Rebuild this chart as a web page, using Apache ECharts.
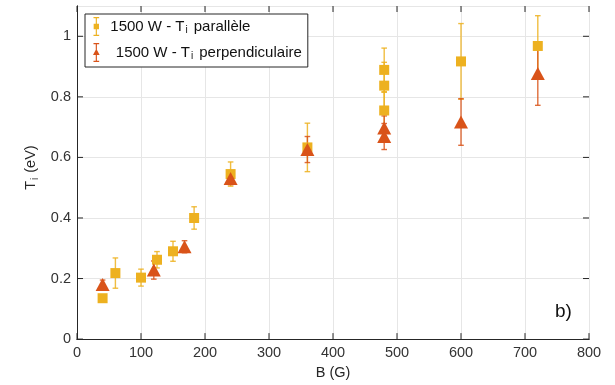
<!DOCTYPE html>
<html>
<head>
<meta charset="utf-8">
<script src="https://cdn.jsdelivr.net/npm/echarts@6/dist/echarts.min.js"></script>
<style>
html,body{margin:0;padding:0;background:#fff;}
#chart{width:615px;height:385px;}
</style>
</head>
<body>
<div id="chart"></div>
<script>
// Data
const parName = '1500 W - Ti parallèle';
const perpName = '1500 W - Ti perpendiculaire';
const parB   = [40, 60, 100, 125, 150, 183, 240, 360, 480, 480, 480, 600, 720];
const parT   = [0.135, 0.218, 0.203, 0.262, 0.290, 0.400, 0.545, 0.633, 0.889, 0.837, 0.755, 0.917, 0.968];
const parErr = [0.010, 0.050, 0.028, 0.027, 0.033, 0.037, 0.040, 0.080, 0.072, 0.077, 0.060, 0.125, 0.100];
const perpB   = [40, 120, 168, 240, 360, 480, 480, 600, 720];
const perpT   = [0.180, 0.228, 0.305, 0.530, 0.626, 0.697, 0.669, 0.717, 0.877];
const perpErr = [0.015, 0.030, 0.020, 0.020, 0.043, 0.040, 0.043, 0.077, 0.105];
const xTicks = [0, 100, 200, 300, 400, 500, 600, 700, 800];
const yTicks = [0, 0.2, 0.4, 0.6, 0.8, 1];
const xRange = [0, 800];
const yRange = [0, 1.1];

const cPar = '#EDB120';
const cPerp = '#D95319';
const axisCol = '#262626';
const gridCol = '#e6e6e6';
const font = 'Liberation Sans, Arial, Helvetica, sans-serif';
const TICK = 6;

function zip3(a, b, c) { return a.map((v, i) => [v, b[i], c[i]]); }

function errRender(color) {
  return function (params, api) {
    const x = api.value(0), y = api.value(1), e = api.value(2);
    const top = api.coord([x, y + e]);
    const bot = api.coord([x, y - e]);
    const w = 2.8;
    const st = { stroke: color, lineWidth: 1.4, opacity: 0.85 };
    return {
      type: 'group',
      children: [
        { type: 'line', shape: { x1: top[0], y1: top[1], x2: bot[0], y2: bot[1] }, style: st },
        { type: 'line', shape: { x1: top[0] - w, y1: top[1], x2: top[0] + w, y2: top[1] }, style: st },
        { type: 'line', shape: { x1: bot[0] - w, y1: bot[1], x2: bot[0] + w, y2: bot[1] }, style: st }
      ]
    };
  };
}

// inward ticks on all four sides of the box, placed through the axes' scales
function xTickRender(params, api) {
  const v = api.value(0);
  const b = api.coord([v, yRange[0]]);
  const t = api.coord([v, yRange[1]]);
  const st = { stroke: axisCol, lineWidth: 1 };
  return { type: 'group', children: [
    { type: 'line', shape: { x1: b[0], y1: b[1], x2: b[0], y2: b[1] - TICK }, style: st },
    { type: 'line', shape: { x1: t[0], y1: t[1], x2: t[0], y2: t[1] + TICK }, style: st }
  ] };
}
function yTickRender(params, api) {
  const v = api.value(1);
  const l = api.coord([xRange[0], v]);
  const r = api.coord([xRange[1], v]);
  const st = { stroke: axisCol, lineWidth: 1 };
  return { type: 'group', children: [
    { type: 'line', shape: { x1: l[0], y1: l[1], x2: l[0] + TICK, y2: l[1] }, style: st },
    { type: 'line', shape: { x1: r[0], y1: r[1], x2: r[0] - TICK, y2: r[1] }, style: st }
  ] };
}

const iconPar = 'path://M3,0h6v1.2h-6z M5.4,1h1.2v18h-1.2z M3,18.8h6v1.2h-6z M3.2,7.2h5.6v5.6h-5.6z';
const iconPerp = 'path://M3,0h6v1.2h-6z M5.4,1h1.2v18h-1.2z M3,18.8h6v1.2h-6z M6,6L9.5,12.5L2.5,12.5z';

const noTick = { show: false };
const lineStyle = { show: true, lineStyle: { color: axisCol, width: 1 } };

const chart = echarts.init(document.getElementById('chart'), null, { renderer: 'canvas' });
chart.setOption({
  animation: false,
  backgroundColor: '#fff',
  textStyle: { fontFamily: font },
  grid: { left: 77, right: 26, top: 6, bottom: 45.5, containLabel: false },
  xAxis: [
    {
      type: 'value', min: xRange[0], max: xRange[1], interval: 100, position: 'bottom',
      name: 'B (G)', nameLocation: 'middle', nameGap: 25,
      nameTextStyle: { fontSize: 14.5, color: axisCol, fontFamily: font },
      axisLine: lineStyle,
      axisTick: noTick,
      axisLabel: { fontSize: 14.5, color: '#333', margin: 6, fontFamily: font,
        formatter: v => xTicks.indexOf(v) >= 0 ? String(v) : '' },
      splitLine: { show: true, lineStyle: { color: gridCol, width: 1 } }
    },
    {
      type: 'value', min: xRange[0], max: xRange[1], interval: 100, position: 'top',
      axisLine: lineStyle, axisTick: noTick, axisLabel: { show: false }, splitLine: { show: false }
    }
  ],
  yAxis: [
    {
      type: 'value', min: yRange[0], max: yRange[1], interval: 0.2, position: 'left',
      name: '{p|T}{s|i}{a|(eV)}', nameLocation: 'middle', nameGap: 37, nameRotate: 90,
      nameTextStyle: {
        color: axisCol, fontFamily: font,
        rich: {
          p: { fontSize: 14.5, color: axisCol, fontFamily: font, padding: [0, 0, 0, 10] },
          a: { fontSize: 14.5, color: axisCol, fontFamily: font },
          s: { fontSize: 10, color: axisCol, fontFamily: font, padding: [8, 5, 0, 1] }
        }
      },
      axisLine: lineStyle,
      axisTick: noTick,
      axisLabel: { fontSize: 14.5, color: '#333', margin: 6, showMaxLabel: false, fontFamily: font,
        formatter: v => {
          const t = yTicks.find(k => Math.abs(k - v) < 1e-6);
          return t === undefined ? '' : String(t);
        } },
      splitLine: { show: true, lineStyle: { color: gridCol, width: 1 } }
    },
    {
      type: 'value', min: yRange[0], max: yRange[1], interval: 0.2, position: 'right',
      axisLine: lineStyle, axisTick: noTick, axisLabel: { show: false }, splitLine: { show: false }
    }
  ],
  legend: {
    orient: 'vertical',
    left: 85, top: 14,
    padding: [3, 6, 5, 8],
    itemGap: 7,
    itemWidth: 10, itemHeight: 19,
    backgroundColor: '#fff',
    borderColor: axisCol, borderWidth: 1, borderRadius: 0,
    data: [
      { name: parName, icon: iconPar },
      { name: perpName, icon: iconPerp }
    ],
    formatter: name => name === parName
      ? '{a|1500 W - T}{s|i}{c|parallèle}'
      : '{b|1500 W - T}{s|i}{c|perpendiculaire}',
    textStyle: {
      color: '#111', fontFamily: font,
      rich: {
        a: { fontSize: 15, color: '#111', fontFamily: font, padding: [0, 0, 0, 4] },
        b: { fontSize: 15, color: '#111', fontFamily: font, padding: [0, 0, 0, 9.5] },
        c: { fontSize: 15, color: '#111', fontFamily: font, padding: [0, 0, 0, 3] },
        s: { fontSize: 10, color: '#111', fontFamily: font, padding: [8, 3, 0, 1] }
      }
    }
  },
  graphic: [
    { type: 'text', left: 555, top: 302, style: { text: 'b)', fontSize: 19, fill: '#111', fontFamily: font } }
  ],
  series: [
    {
      name: 'xticks', type: 'custom', xAxisIndex: 0, yAxisIndex: 0, silent: true, z: 10,
      renderItem: xTickRender, data: xTicks.map(v => [v, yRange[0]]), encode: { x: 0, y: 1 }
    },
    {
      name: 'yticks', type: 'custom', xAxisIndex: 0, yAxisIndex: 0, silent: true, z: 10,
      renderItem: yTickRender, data: yTicks.map(v => [xRange[0], v]), encode: { x: 0, y: 1 }
    },
    {
      name: parName + ' err', type: 'custom', xAxisIndex: 0, yAxisIndex: 0,
      renderItem: errRender(cPar), data: zip3(parB, parT, parErr), z: 2,
      encode: { x: 0, y: [1] }, silent: true
    },
    {
      name: perpName + ' err', type: 'custom', xAxisIndex: 0, yAxisIndex: 0,
      renderItem: errRender(cPerp), data: zip3(perpB, perpT, perpErr), z: 3,
      encode: { x: 0, y: [1] }, silent: true
    },
    {
      name: parName, type: 'scatter', symbol: 'rect', symbolSize: 10,
      itemStyle: { color: cPar, opacity: 1 }, z: 4,
      data: parB.map((b, i) => [b, parT[i]])
    },
    {
      name: perpName, type: 'scatter', symbol: 'triangle', symbolSize: [14, 13],
      itemStyle: { color: cPerp, opacity: 1 }, z: 5,
      data: perpB.map((b, i) => [b, perpT[i]])
    }
  ]
});
</script>
</body>
</html>
